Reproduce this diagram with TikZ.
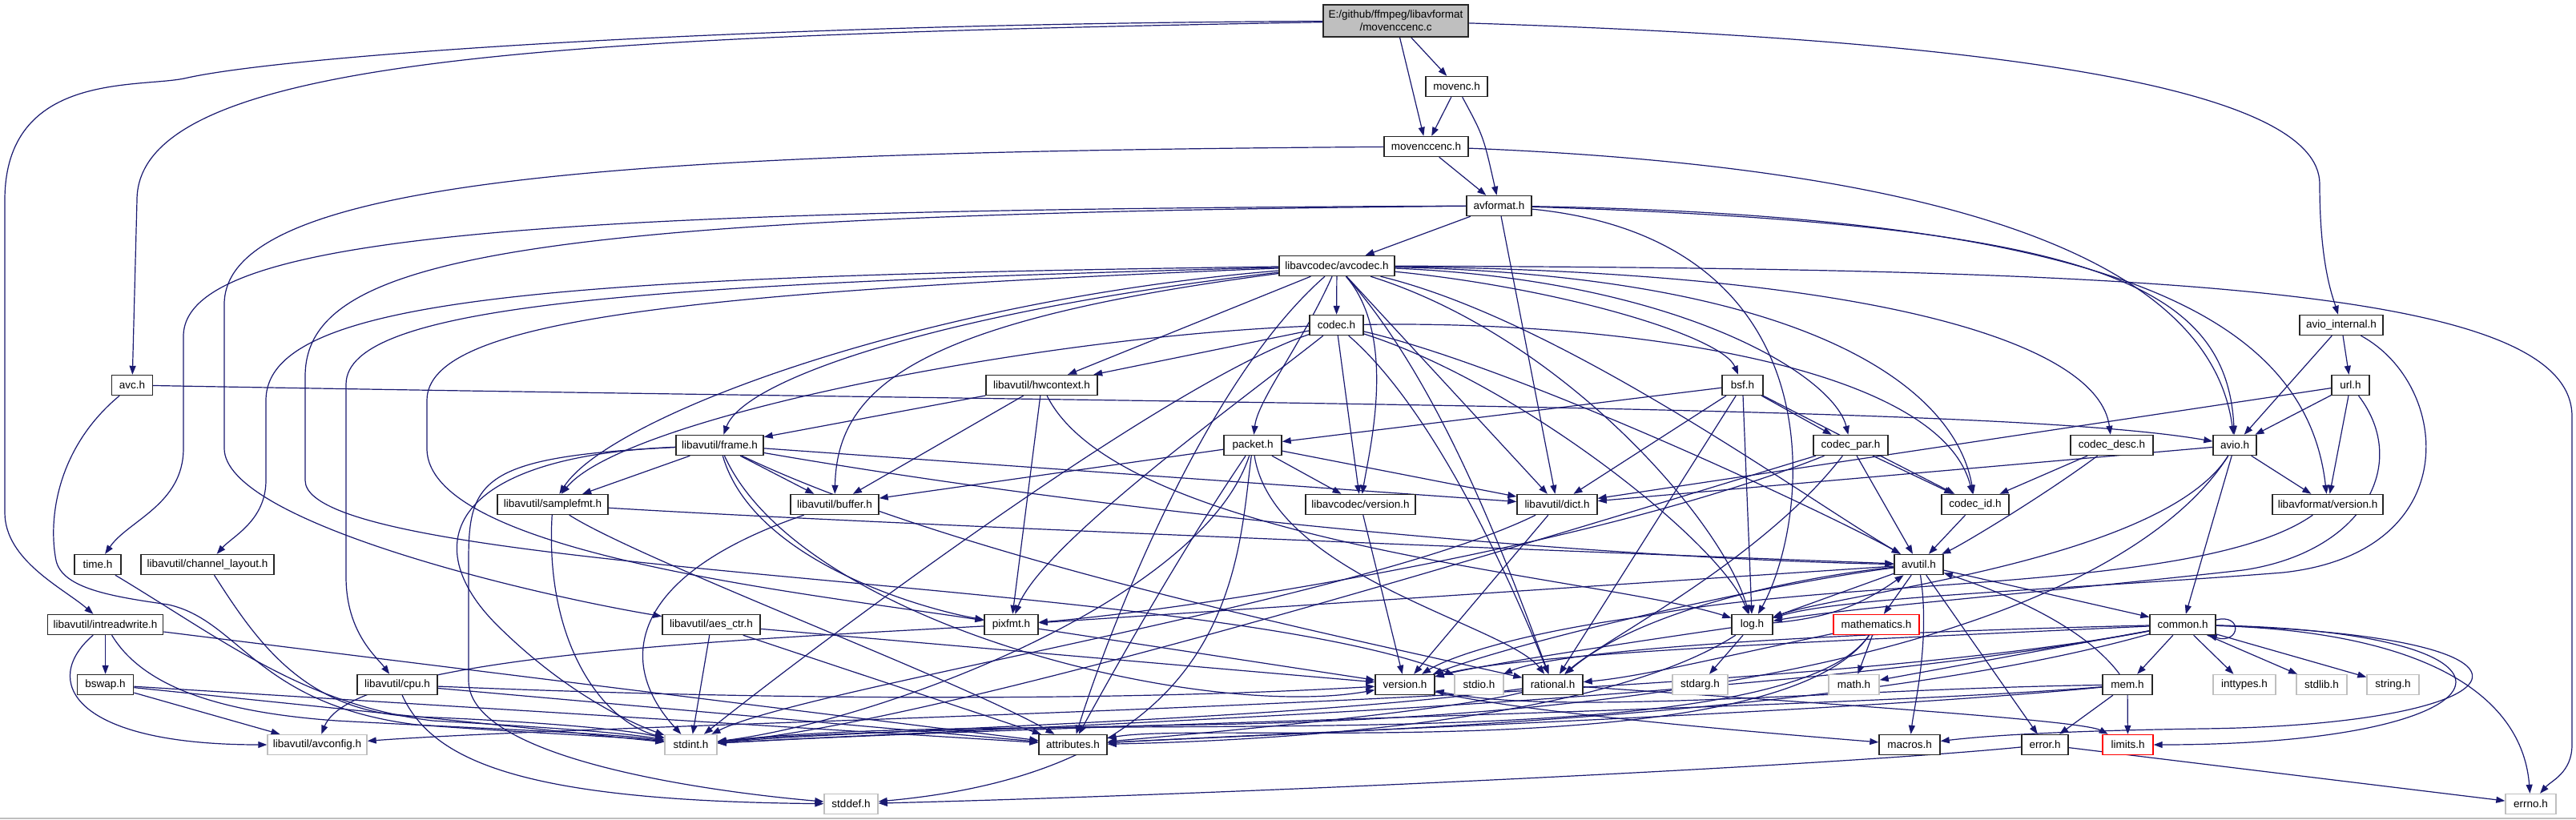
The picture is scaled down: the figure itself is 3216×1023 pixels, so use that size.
\documentclass[tikz,border=0pt]{standalone}
\usepackage{fontspec}
\setmainfont{Liberation Sans}
\usetikzlibrary{arrows.meta,calc}
\definecolor{edgec}{HTML}{191970}
\definecolor{grayb}{HTML}{BFBFBF}
\pgfdeclarelayer{bg}
\pgfsetlayers{bg,main}
\tikzset{
  nd/.style={draw, rectangle, inner sep=0pt, minimum height=25pt, fill=white,
    font=\fontsize{13.5}{16}\selectfont, line width=1.4pt},
  blk/.style={nd, draw=black!85},
  gry/.style={nd, draw=grayb},
  rd/.style={nd, draw=red},
  e/.style={draw=edgec, line width=1.2pt, -{Triangle[length=11pt,width=8pt]}},
}
\begin{document}
\begin{tikzpicture}[x=1pt,y=-1pt]
\useasboundingbox (0,0) rectangle (3216,1023);
% nodes
\node[blk, minimum width=181pt, minimum height=40pt, fill=grayb, align=center] (main) at (1742.5,26) {E:/github/ffmpeg/libavformat\\/movenccenc.c};
\node[blk, minimum width=77pt] (movenc) at (1818.5,108) {movenc.h};
\node[blk, minimum width=105pt] (mcenc) at (1780.5,183) {movenccenc.h};
\node[blk, minimum width=81pt] (avformat) at (1871.5,257) {avformat.h};
\node[blk, minimum width=144pt] (avcodec) at (1669,332) {libavcodec/avcodec.h};
\node[blk, minimum width=67pt] (codec) at (1668.5,406) {codec.h};
\node[blk, minimum width=139pt] (hwcontext) at (1300.5,481) {libavutil/hwcontext.h};
\node[blk, minimum width=104pt] (avio_internal) at (2923,406) {avio\_internal.h};
\node[blk, minimum width=47pt] (url) at (2934.5,481) {url.h};
\node[blk, minimum width=51pt] (bsf) at (2175.5,481) {bsf.h};
\node[blk, minimum width=51pt] (avc) at (165,481) {avc.h};
\node[blk, minimum width=109pt] (frame) at (898.5,556) {libavutil/frame.h};
\node[blk, minimum width=138pt] (samplefmt) at (690,630) {libavutil/samplefmt.h};
\node[blk, minimum width=110pt] (buffer) at (1042,630) {libavutil/buffer.h};
\node[blk, minimum width=58pt] (time) at (122,705) {time.h};
\node[blk, minimum width=166pt] (channel_layout) at (259,705) {libavutil/channel\_layout.h};
\node[blk, minimum width=144pt] (intreadwrite) at (131.6,780) {libavutil/intreadwrite.h};
\node[blk, minimum width=122pt] (aes_ctr) at (888,780) {libavutil/aes\_ctr.h};
\node[blk, minimum width=70pt] (bswap) at (131.6,855) {bswap.h};
\node[blk, minimum width=100pt] (cpu) at (496,855) {libavutil/cpu.h};
\node[gry, minimum width=124pt] (avconfig) at (396,930) {libavutil/avconfig.h};
\node[gry, minimum width=65pt] (stdint) at (862.5,930) {stdint.h};
\node[gry, minimum width=67pt] (stddef) at (1062.5,1004) {stddef.h};
\node[blk, minimum width=72pt] (packet) at (1564,556) {packet.h};
\node[blk, minimum width=137pt] (lavc_version) at (1698.5,630) {libavcodec/version.h};
\node[blk, minimum width=100pt] (dict) at (1944,630) {libavutil/dict.h};
\node[blk, minimum width=67pt] (pixfmt) at (1262.5,780) {pixfmt.h};
\node[blk, minimum width=74pt] (version) at (1754,855) {version.h};
\node[gry, minimum width=61pt] (stdio) at (1846.5,855) {stdio.h};
\node[blk, minimum width=75pt] (rational) at (1938.5,855) {rational.h};
\node[gry, minimum width=69pt] (stdarg) at (2122.5,855) {stdarg.h};
\node[blk, minimum width=85pt] (attributes) at (1339.5,930) {attributes.h};
\node[blk, minimum width=93pt] (codec_par) at (2310.5,556) {codec\_par.h};
\node[blk, minimum width=103pt] (codec_desc) at (2636.5,556) {codec\_desc.h};
\node[blk, minimum width=54pt] (avio) at (2790,556) {avio.h};
\node[blk, minimum width=84pt] (codec_id) at (2466,630) {codec\_id.h};
\node[blk, minimum width=138pt] (lavf_version) at (2906,630) {libavformat/version.h};
\node[blk, minimum width=61pt] (avutil) at (2395.5,705) {avutil.h};
\node[blk, minimum width=51pt] (log) at (2187.5,780) {log.h};
\node[rd, minimum width=107pt] (mathematics) at (2342.5,780) {mathematics.h};
\node[blk, minimum width=82pt] (common) at (2725,780) {common.h};
\node[gry, minimum width=63pt] (math) at (2314.5,855) {math.h};
\node[blk, minimum width=62pt] (mem) at (2656,855) {mem.h};
\node[gry, minimum width=78pt] (inttypes) at (2802,855) {inttypes.h};
\node[gry, minimum width=63pt] (stdlib) at (2898.5,855) {stdlib.h};
\node[gry, minimum width=65pt] (string) at (2987.5,855) {string.h};
\node[blk, minimum width=76pt] (macros) at (2384,930) {macros.h};
\node[blk, minimum width=58pt] (error) at (2553,930) {error.h};
\node[rd, minimum width=63pt] (limits) at (2656.5,930) {limits.h};
\node[gry, minimum width=63pt] (errno) at (3159.5,1004) {errno.h};

\begin{pgfonlayer}{bg}
\fill[white] (0,0) rectangle (3216,1023);
\draw[grayb, line width=2pt] (0,1022) -- (3216,1022);
% top part
\draw[e] (main) -- (movenc);
\draw[e] (main) -- (mcenc);
\draw[e] (movenc) -- (mcenc);
\draw[e] (movenc) .. controls (1852,170) .. (avformat);
\draw[e] (mcenc) -- (avformat);
\draw[e] (main) .. controls (700,45) and (171,70) .. (171,250) -- (avc);
\draw[e] (main) .. controls (900,30) and (350,70) .. (230,98) .. controls (170,110) and (6,90) .. (6,250) -- (6,640) .. controls (6,700) and (80,735) .. (intreadwrite);
\draw[e] (main) .. controls (2500,50) and (2896,110) .. (2896,230) .. controls (2896,330) and (2912,370) .. (avio_internal);
\draw[e] (mcenc) .. controls (800,190) and (280,220) .. (280,380) -- (280,560) .. controls (280,650) and (650,740) .. (aes_ctr);
\draw[e] (mcenc) .. controls (2450,210) and (2760,330) .. (avio);
% avformat
\draw[e] (avformat) -- (avcodec);
\draw[e] (avformat) -- (dict);
\draw[e] (avformat) .. controls (700,262) and (229,290) .. (229,420) -- (229,560) .. controls (229,630) and (160,650) .. (time);
\draw[e] (avformat) .. controls (650,268) and (381,320) .. (381,470) -- (381,600) .. controls (381,720) and (1500,720) .. (stdio);
\draw[e] (avformat) .. controls (2300,300) and (2260,650) .. (log);
\draw[e] (avformat) .. controls (2600,280) and (2780,350) .. (avio);
\draw[e] (avformat) .. controls (2650,270) and (2880,400) .. (lavf_version);
% avcodec
\draw[e] (avcodec) .. controls (2700,335) and (3211,360) .. (3211,520) -- (3211,930) .. controls (3211,965) and (3185,975) .. (errno);
\draw[e] (avcodec) .. controls (700,345) and (332,370) .. (332,500) -- (332,600) .. controls (332,650) and (290,670) .. (channel_layout);
\draw[e] (avcodec) .. controls (800,355) and (432,380) .. (432,480) -- (432,720) .. controls (432,790) and (470,820) .. (cpu);
\draw[e] (avcodec) .. controls (850,365) and (533,400) .. (533,500) -- (533,560) .. controls (533,690) and (1000,740) .. (pixfmt);
\draw[e] (avcodec) .. controls (1150,375) and (760,520) .. (samplefmt);
\draw[e] (avcodec) .. controls (1200,385) and (930,470) .. (frame);
\draw[e] (avcodec) -- (hwcontext);
\draw[e] (avcodec) -- (codec);
\draw[e] (avcodec) .. controls (1150,400) and (1045,480) .. (buffer);
\draw[e] (avcodec) .. controls (1625,430) and (1570,500) .. (packet);
\draw[e] (avcodec) .. controls (1745,420) and (1710,560) .. (lavc_version);
\draw[e] (avcodec) -- (dict);
\draw[e] (avcodec) .. controls (1500,480) and (1380,800) .. (attributes);
\draw[e] (avcodec) .. controls (1950,420) and (2150,650) .. (log);
\draw[e] (avcodec) .. controls (1800,480) and (1880,700) .. (rational);
\draw[e] (avcodec) .. controls (1950,400) and (2250,620) .. (avutil);
\draw[e] (avcodec) .. controls (1950,360) and (2150,420) .. (bsf);
\draw[e] (avcodec) .. controls (2100,350) and (2290,470) .. (codec_par);
\draw[e] (avcodec) .. controls (2250,345) and (2440,480) .. (codec_id);
\draw[e] (avcodec) .. controls (2350,340) and (2620,430) .. (codec_desc);
% codec
\draw[e] (codec) -- (hwcontext);
\draw[e] (codec) .. controls (1300,420) and (780,520) .. (samplefmt);
\draw[e] (codec) .. controls (1450,480) and (1000,820) .. (stdint);
\draw[e] (codec) .. controls (1900,460) and (2300,650) .. (avutil);
\draw[e] (codec) .. controls (1900,480) and (2150,680) .. (log);
\draw[e] (codec) .. controls (1550,500) and (1300,680) .. (pixfmt);
\draw[e] (codec) .. controls (1800,520) and (1900,760) .. (rational);
\draw[e] (codec) .. controls (2000,400) and (2420,450) .. (codec_id);
\draw[e] (codec) -- (lavc_version);
% hwcontext
\draw[e] (hwcontext) -- (frame);
\draw[e] (hwcontext) -- (buffer);
\draw[e] (hwcontext) .. controls (1400,680) and (2000,720) .. (log);
\draw[e] (hwcontext) -- (pixfmt);
% bsf
\draw[e] (bsf) -- (packet);
\draw[e] (bsf) -- (dict);
\draw[e] (bsf) -- (log);
\draw[e] (bsf) -- (rational);
\draw[e] (bsf) -- (codec_id);
\draw[e] (bsf) -- (codec_par);
% packet
\draw[e] (packet) -- (buffer);
\draw[e] (packet) -- (lavc_version);
\draw[e] (packet) -- (dict);
\draw[e] (packet) .. controls (1545,700) and (1545,960) .. (stddef);
\draw[e] (packet) .. controls (1500,750) and (1100,900) .. (stdint);
\draw[e] (packet) .. controls (1480,680) and (1400,820) .. (attributes);
\draw[e] (packet) .. controls (1590,720) and (1880,780) .. (rational);
% frame
\draw[e] (frame) -- (samplefmt);
\draw[e] (frame) -- (buffer);
\draw[e] (frame) -- (dict);
\draw[e] (frame) .. controls (1500,660) and (2100,700) .. (avutil);
\draw[e] (frame) .. controls (1200,700) and (1700,800) .. (rational);
\draw[e] (frame) .. controls (940,700) and (1150,760) .. (pixfmt);
\draw[e] (frame) .. controls (1000,780) and (1500,900) .. (version);
\draw[e] (frame) .. controls (560,570) and (520,680) .. (620,780) .. controls (700,860) and (780,900) .. (stdint);
\draw[e] (frame) .. controls (600,570) and (585,600) .. (585,700) -- (585,850) .. controls (585,950) and (900,990) .. (stddef);
% samplefmt, buffer, dict, channel_layout, cpu
\draw[e] (samplefmt) .. controls (680,800) and (750,900) .. (stdint);
\draw[e] (samplefmt) .. controls (1100,655) and (2000,690) .. (avutil);
\draw[e] (samplefmt) .. controls (800,700) and (1200,850) .. (attributes);
\draw[e] (buffer) .. controls (780,720) and (770,830) .. (stdint);
\draw[e] (dict) .. controls (1700,750) and (1000,860) .. (stdint);
\draw[e] (dict) -- (version);
\draw[e] (channel_layout) .. controls (320,800) and (380,890) .. (520,895) .. controls (650,900) and (780,910) .. (stdint);
\draw[e] (cpu) .. controls (540,950) and (650,1000) .. (stddef);
\draw[e] (cpu) -- (attributes);
\draw[e] (cpu) .. controls (1100,880) and (1500,870) .. (version);
% intreadwrite, bswap, aes_ctr, time, avc
\draw[e] (intreadwrite) -- (bswap);
\draw[e] (intreadwrite) .. controls (180,860) and (280,890) .. (420,900) .. controls (600,910) and (760,915) .. (stdint);
\draw[e] (intreadwrite) .. controls (50,850) and (90,930) .. (avconfig);
\draw[e] (intreadwrite) -- (attributes);
\draw[e] (bswap) -- (stdint);
\draw[e] (bswap) -- (avconfig);
\draw[e] (bswap) -- (attributes);
\draw[e] (aes_ctr) -- (stdint);
\draw[e] (aes_ctr) -- (attributes);
\draw[e] (aes_ctr) -- (version);
\draw[e] (time) .. controls (280,800) and (380,880) .. (540,900) .. controls (680,908) and (780,915) .. (stdint);
\draw[e] (avc) .. controls (70,560) and (60,650) .. (70,700) .. controls (78,735) and (140,745) .. (210,755) .. controls (300,775) and (320,880) .. (520,905) .. controls (650,915) and (780,920) .. (stdint);
\draw[e] (avc) .. controls (1500,505) and (2500,505) .. (avio);
% lavc_version, pixfmt, version, rational
\draw[e] (lavc_version) -- (version);
\draw[e] (pixfmt) .. controls (900,800) and (440,820) .. (avconfig);
\draw[e] (pixfmt) -- (version);
\draw[e] (version) .. controls (1900,890) and (2200,915) .. (macros);
\draw[e] (rational) .. controls (1600,900) and (1100,910) .. (stdint);
\draw[e] (rational) .. controls (2300,880) and (2600,900) .. (limits);
\draw[e] (rational) .. controls (1800,890) and (1450,920) .. (attributes);
% avutil
\draw[e] (avutil) -- (common);
\draw[e] (avutil) -- (error);
\draw[e] (avutil) .. controls (2250,720) and (2050,760) .. (rational);
\draw[e] (avutil) .. controls (2200,730) and (1900,800) .. (version);
\draw[e] (avutil) .. controls (2410,800) and (2390,880) .. (macros);
\draw[e] (avutil) -- (mathematics);
\draw[e] (avutil) -- (log);
\draw[e] (avutil) -- (pixfmt);
% log
\draw[e] (log) -- (stdarg);
\draw[e] (log) to[bend right=15] (avutil);
\draw[e] (log) .. controls (2000,900) and (1600,925) .. (attributes);
\draw[e] (log) .. controls (2050,800) and (1850,830) .. (version);
% mathematics
\draw[e] (mathematics) -- (math);
\draw[e] (mathematics) .. controls (2220,960) and (1300,880) .. (stdint);
\draw[e] (mathematics) .. controls (2220,960) and (1500,900) .. (attributes);
\draw[e] (mathematics) .. controls (2150,820) and (2050,845) .. (rational);
% common
\draw[e] (common) .. controls (3050,790) and (3150,880) .. (errno);
\draw[e] (common) -- (inttypes);
\draw[e] (common) -- (stdlib);
\draw[e] (common) -- (string);
\draw[e] (common) .. controls (3200,790) and (3150,930) .. (limits);
\draw[e] (common) -- (math);
\draw[e] (common) .. controls (2200,880) and (1300,905) .. (stdint);
\draw[e] (common) .. controls (2300,790) and (1950,810) .. (stdio);
\draw[e] (common) .. controls (2300,900) and (1600,915) .. (attributes);
\draw[e] (common) .. controls (3230,795) and (3160,905) .. (2750,910) .. controls (2550,913) and (2470,920) .. (macros);
\draw[e] (common) .. controls (2300,800) and (1900,815) .. (version);
\draw[e] (common) .. controls (2200,880) and (800,900) .. (avconfig);
\draw[e] (common) -- (mem);
\draw[e] ($(common.east)+(0,-6)$) .. controls +(34,-8) and +(40,12) .. ($(common.south east)+(-10,0)$);
% mem, error
\draw[e] (mem) -- (limits);
\draw[e] (mem) -- (error);
\draw[e] (mem) .. controls (2600,780) and (2500,740) .. (avutil);
\draw[e] (mem) .. controls (2300,885) and (1300,905) .. (stdint);
\draw[e] (mem) .. controls (2300,890) and (1600,915) .. (attributes);
\draw[e] (mem) .. controls (2300,860) and (1950,895) .. (version);
\draw[e] (error) -- (errno);
\draw[e] (error) .. controls (2300,955) and (1600,990) .. (stddef);
% codec_par, codec_desc, codec_id
\draw[e] (codec_par) .. controls (2000,650) and (1200,900) .. (stdint);
\draw[e] (codec_par) -- (avutil);
\draw[e] (codec_par) .. controls (2200,700) and (2000,800) .. (rational);
\draw[e] (codec_par) .. controls (2000,680) and (1500,760) .. (pixfmt);
\draw[e] (codec_par) -- (codec_id);
\draw[e] (codec_desc) .. controls (2550,620) and (2450,680) .. (avutil);
\draw[e] (codec_desc) -- (codec_id);
\draw[e] (codec_id) -- (avutil);
% avio, avio_internal, url, lavf_version
\draw[e] (avio) .. controls (2700,700) and (2400,890) .. (1500,905) .. controls (1100,912) and (950,920) .. (stdint);
\draw[e] (avio) -- (common);
\draw[e] (avio) -- (dict);
\draw[e] (avio) .. controls (2700,700) and (2300,740) .. (log);
\draw[e] (avio) -- (lavf_version);
\draw[e] (avio_internal) -- (avio);
\draw[e] (avio_internal) -- (url);
\draw[e] (avio_internal) .. controls (3060,480) and (3080,690) .. (2850,715) .. controls (2600,735) and (2300,745) .. (log);
\draw[e] (url) -- (avio);
\draw[e] (url) -- (lavf_version);
\draw[e] (url) -- (dict);
\draw[e] (url) .. controls (3010,580) and (2950,690) .. (2800,712) .. controls (2550,740) and (2300,760) .. (log);
\draw[e] (lavf_version) .. controls (2750,740) and (2300,720) .. (2050,770) .. controls (1900,790) and (1810,820) .. (version);
\end{pgfonlayer}
\end{tikzpicture}
\end{document}
